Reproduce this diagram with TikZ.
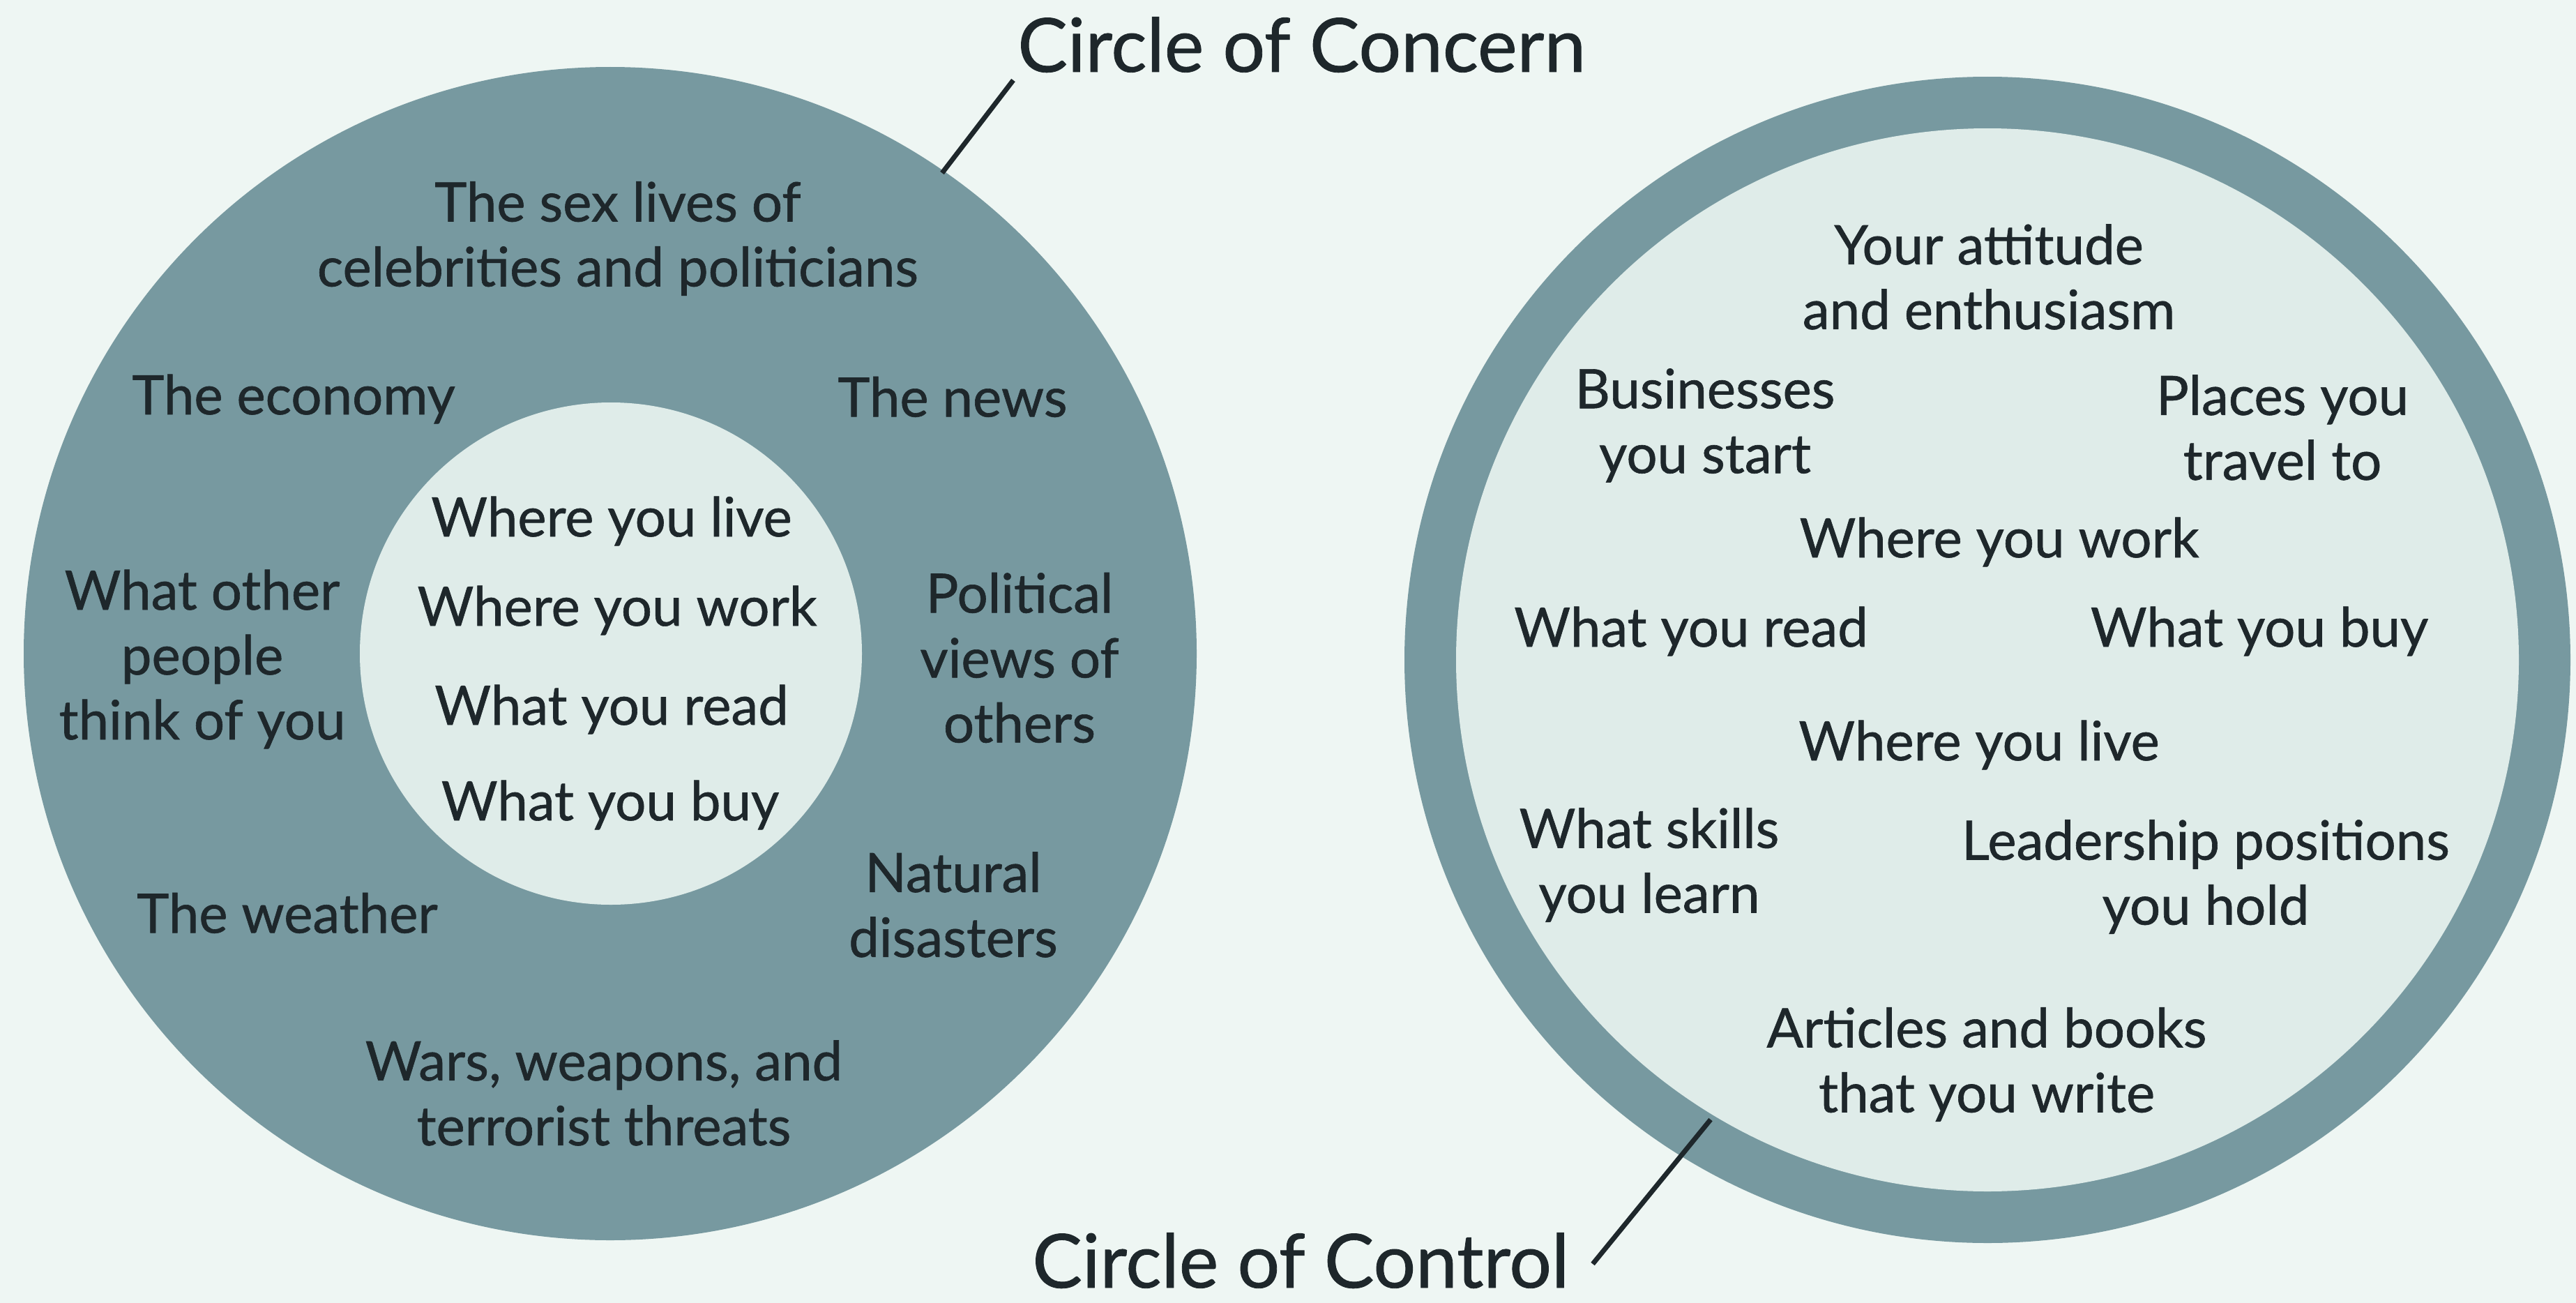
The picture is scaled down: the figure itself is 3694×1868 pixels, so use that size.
\documentclass[tikz,border=0pt]{standalone}
\usepackage{fontspec}
\setmainfont{Lato}[FakeBold=0.8]
\definecolor{bgc}{HTML}{EEF6F3}
\definecolor{ringc}{HTML}{7799A0}
\definecolor{innerc}{HTML}{DFECE9}
\definecolor{txtc}{HTML}{1E272B}
\begin{document}
\begin{tikzpicture}[x=0.5pt,y=-0.5pt,
  lbl/.style={text=txtc,font=\fontsize{39}{46.5}\selectfont,align=center,inner sep=0pt},
  ttl/.style={text=txtc,font=\fontsize{53.5}{60}\selectfont,inner sep=0pt,anchor=base west},
  leader/.style={draw=txtc,line width=3.5pt}]
\useasboundingbox[fill=bgc] (0,0) rectangle (3694,1868);
% left: circle of concern
\fill[ringc] (875,937) circle[radius=420.5pt];
\fill[innerc] (876,937) circle[radius=180pt];
% right: circle of control
\fill[ringc] (2850,946) circle[radius=418pt];
\fill[innerc] (2850,946) circle[radius=381pt];
% titles
\node[ttl] (concern) at (1459,103) {Circle of Concern};
\node[ttl] (control) at (1480,1846) {Circle of Control};
\coordinate (cA) at (1351,248);
\coordinate (cB) at (1453,115);
\coordinate (kA) at (2453,1605);
\coordinate (kB) at (2284,1812);
\draw[leader] (cA) -- (cB);
\draw[leader] (kA) -- (kB);
% concern labels
\node[lbl] (sex) at (886,342) {The sex lives of\\celebrities and politicians};
\node[lbl] (econ) at (421,572) {The economy};
\node[lbl] (news) at (1366,569) {The news};
\node[lbl] (others) at (290,945) {What other\\people\\think of you};
\node[lbl] (polit) at (1462,943) {Political\\views of\\others};
\node[lbl] (weather) at (412,1309) {The weather};
\node[lbl] (natural) at (1367,1297) {Natural\\disasters};
\node[lbl] (wars) at (866,1567) {Wars, weapons, and\\terrorist threats};
\node[lbl] (ilive) at (877,747) {Where you live};
\node[lbl] (iwork) at (885,875) {Where you work};
\node[lbl] (iread) at (877,1017) {What you read};
\node[lbl] (ibuy) at (875,1154) {What you buy};
% control labels
\node[lbl] (att) at (2852,397) {Your attitude\\and enthusiasm};
\node[lbl] (bus) at (2445,610) {Businesses\\you start};
\node[lbl] (plc) at (3273,613) {Places you\\travel to};
\node[lbl] (rwork) at (2867,777) {Where you work};
\node[lbl] (rread) at (2425,905) {What you read};
\node[lbl] (rbuy) at (3240,905) {What you buy};
\node[lbl] (rlive) at (2838,1068) {Where you live};
\node[lbl] (skl) at (2365,1240) {What skills\\you learn};
\node[lbl] (lead) at (3163,1257) {Leadership positions\\you hold};
\node[lbl] (art) at (2849,1526) {Articles and books\\that you write};
\end{tikzpicture}
\end{document}
